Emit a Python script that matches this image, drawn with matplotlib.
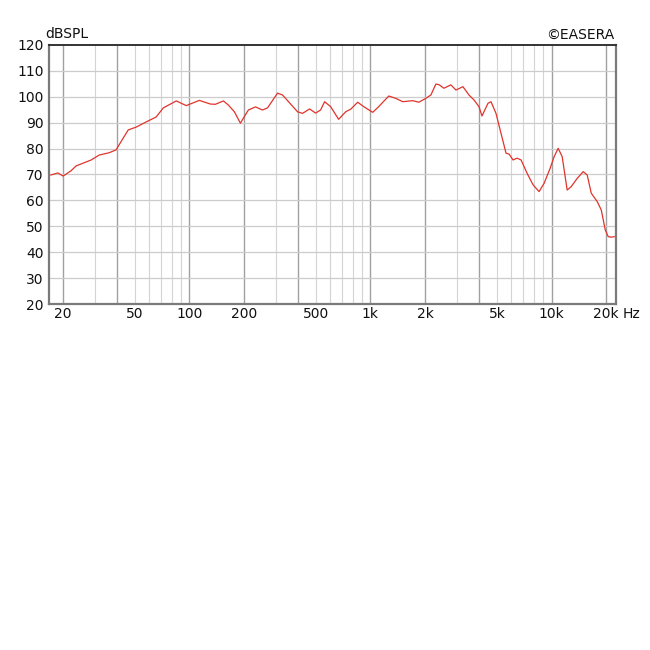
import matplotlib
matplotlib.use('Agg')
import matplotlib.pyplot as plt

# frequency response
freq = [17.2, 18.8, 20.1, 22.2, 23.7, 28.7, 31.8, 36.1, 39.4, 43.1, 46.0, 50.9, 57.8, 65.6,
        71.8, 84.7, 96.2, 113.6, 130.7, 139.3, 154.3, 164.4, 177.4, 191.5, 199, 212, 231.9,
        253.5, 270.2, 306.9, 327, 396, 422, 461.3, 498, 530.8, 558.5, 602.9, 667.6, 730,
        778, 851, 918, 1030, 1111, 1263, 1380, 1509, 1714, 1850, 2023, 2157, 2298, 2388,
        2545, 2782, 2966, 3242, 3500, 3729, 3975, 4130, 4459, 4632, 4936, 5261, 5609, 5828,
        6132, 6454, 6791, 7326, 7910, 8538, 9100, 9825, 10340, 10880, 11450, 12200, 12840,
        13860, 14960, 15740, 16570, 17890, 18820, 19800, 20560, 21360, 22200]
spl = [69.8, 70.6, 69.4, 71.4, 73.3, 75.6, 77.5, 78.4, 79.5, 84.0, 87.2, 88.3, 90.3, 92.2,
       95.7, 98.4, 96.6, 98.6, 97.2, 97.1, 98.4, 96.8, 94.2, 89.8, 91.8, 94.9, 96.1,
       94.9, 95.7, 101.4, 100.7, 94.2, 93.6, 95.3, 93.7, 94.9, 98.1, 96.2, 91.3, 94.2,
       95.2, 97.9, 96.2, 94.0, 96.2, 100.3, 99.4, 98.1, 98.5, 97.9, 99.4, 100.7, 104.9, 104.7,
       103.3, 104.6, 102.6, 103.9, 100.7, 98.8, 96.2, 92.6, 97.5, 98.1, 93.6, 85.9, 78.2, 77.9,
       75.6, 76.3, 75.6, 70.5, 66.0, 63.4, 66.6, 72.4, 76.9, 80.1, 76.9, 64.0, 65.3,
       68.5, 71.1, 69.8, 62.8, 59.5, 56.3, 48.6, 46.0, 45.8, 46.0]

tick_freqs = [20, 50, 100, 200, 500, 1000, 2000, 5000, 10000, 20000]
tick_labels = ['20', '50', '100', '200', '500', '1k', '2k', '5k', '10k', '20k']
dark_lines = [20, 40, 100, 200, 400, 1000, 2000, 4000, 10000, 20000]
db_ticks = [20, 30, 40, 50, 60, 70, 80, 90, 100, 110, 120]

fig = plt.figure(figsize=(6.5, 6.5), dpi=100)
ax = fig.add_axes([0.0754, 0.5323, 0.8723, 0.3985])
ax.set_xscale('log')
ax.set_xlim(16.8, 22700)
ax.set_ylim(20, 120)

# grid lines
light_lines = []
for dec in [10, 100, 1000, 10000]:
    for m in range(1, 10):
        f = dec * m
        if 16.8 < f < 22700 and f not in dark_lines:
            light_lines.append(f)
for f in light_lines:
    ax.axvline(f, color='#d4d4d4', lw=0.8, zorder=0)
for f in dark_lines:
    ax.axvline(f, color='#a0a0a0', lw=1.0, zorder=0)
for d in db_ticks[1:-1]:
    ax.axhline(d, color='#cccccc', lw=0.9, zorder=0)

ax.plot(freq, spl, color='#e0342c', lw=0.9, zorder=3)

ax.set_xticks(tick_freqs)
ax.set_xticklabels(tick_labels)
ax.set_xticks([], minor=True)
ax.set_yticks(db_ticks)
ax.tick_params(length=0, labelsize=10, colors='#111111')
ax.tick_params(axis='x', pad=2)
ax.tick_params(axis='y', pad=4)

for s in ['left', 'bottom', 'right']:
    ax.spines[s].set_color('#7a7a7a')
    ax.spines[s].set_linewidth(1.6)
ax.spines['top'].set_color('#333333')
ax.spines['top'].set_linewidth(1.4)

fig.text(45 / 650, 1 - 34 / 650, 'dBSPL', fontsize=10, va='center', ha='left', color='#111111')
fig.text(614 / 650, 1 - 35 / 650, '©EASERA', fontsize=10, va='center', ha='right', color='#111111')
fig.text(632 / 650, 1 - 314 / 650, 'Hz', fontsize=10, va='center', ha='center', color='#111111')

plt.savefig('out.png', dpi=100)
